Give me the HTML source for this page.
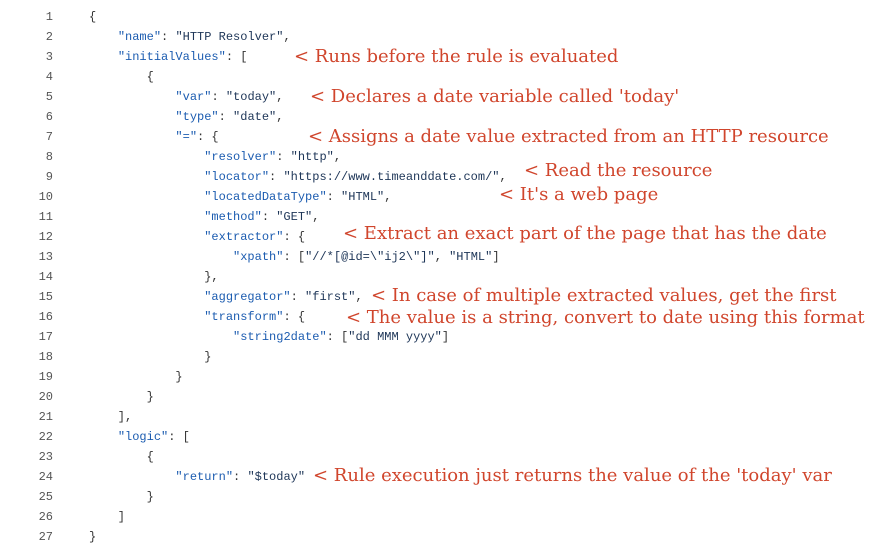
<!DOCTYPE html>
<html><head><meta charset="utf-8"><style>
body{margin:0;width:874px;height:554px;background:#fff;position:relative;overflow:hidden}
.ln{position:absolute;left:0;width:53px;text-align:right;font:12px "Liberation Mono",monospace;color:#555;line-height:20px}
.c{position:absolute;left:89px;font:12px "Liberation Mono",monospace;color:#333;line-height:20px;white-space:pre}
.k{color:#1c5cb0}.v{color:#1d3557}
.a{position:absolute;font:18px "DejaVu Serif",serif;color:#d0452c;white-space:nowrap;line-height:20px}
</style></head><body>
<div class="ln" style="top:7px">1<br>2<br>3<br>4<br>5<br>6<br>7<br>8<br>9<br>10<br>11<br>12<br>13<br>14<br>15<br>16<br>17<br>18<br>19<br>20<br>21<br>22<br>23<br>24<br>25<br>26<br>27</div>
<div class="c" style="top:7px">{
    <span class="k">"name"</span>: <span class="v">"HTTP Resolver"</span>,
    <span class="k">"initialValues"</span>: [
        {
            <span class="k">"var"</span>: <span class="v">"today"</span>,
            <span class="k">"type"</span>: <span class="v">"date"</span>,
            <span class="k">"="</span>: {
                <span class="k">"resolver"</span>: <span class="v">"http"</span>,
                <span class="k">"locator"</span>: <span class="v">"https://www.timeanddate.com/"</span>,
                <span class="k">"locatedDataType"</span>: <span class="v">"HTML"</span>,
                <span class="k">"method"</span>: <span class="v">"GET"</span>,
                <span class="k">"extractor"</span>: {
                    <span class="k">"xpath"</span>: [<span class="v">"//*[@id=\"ij2\"]"</span>, <span class="v">"HTML"</span>]
                },
                <span class="k">"aggregator"</span>: <span class="v">"first"</span>,
                <span class="k">"transform"</span>: {
                    <span class="k">"string2date"</span>: [<span class="v">"dd MMM yyyy"</span>]
                }
            }
        }
    ],
    <span class="k">"logic"</span>: [
        {
            <span class="k">"return"</span>: <span class="v">"$today"</span>
        }
    ]
}</div>
<div class="a" style="left:294px;top:47px">&lt; Runs before the rule is evaluated</div>
<div class="a" style="left:310px;top:87px">&lt; Declares a date variable called 'today'</div>
<div class="a" style="left:308px;top:127px">&lt; Assigns a date value extracted from an HTTP resource</div>
<div class="a" style="left:524px;top:161px">&lt; Read the resource</div>
<div class="a" style="left:499px;top:185px">&lt; It's a web page</div>
<div class="a" style="left:343px;top:224px">&lt; Extract an exact part of the page that has the date</div>
<div class="a" style="left:371px;top:286px">&lt; In case of multiple extracted values, get the first</div>
<div class="a" style="left:346px;top:308px">&lt; The value is a string, convert to date using this format</div>
<div class="a" style="left:313px;top:466px">&lt; Rule execution just returns the value of the 'today' var</div>
</body></html>
